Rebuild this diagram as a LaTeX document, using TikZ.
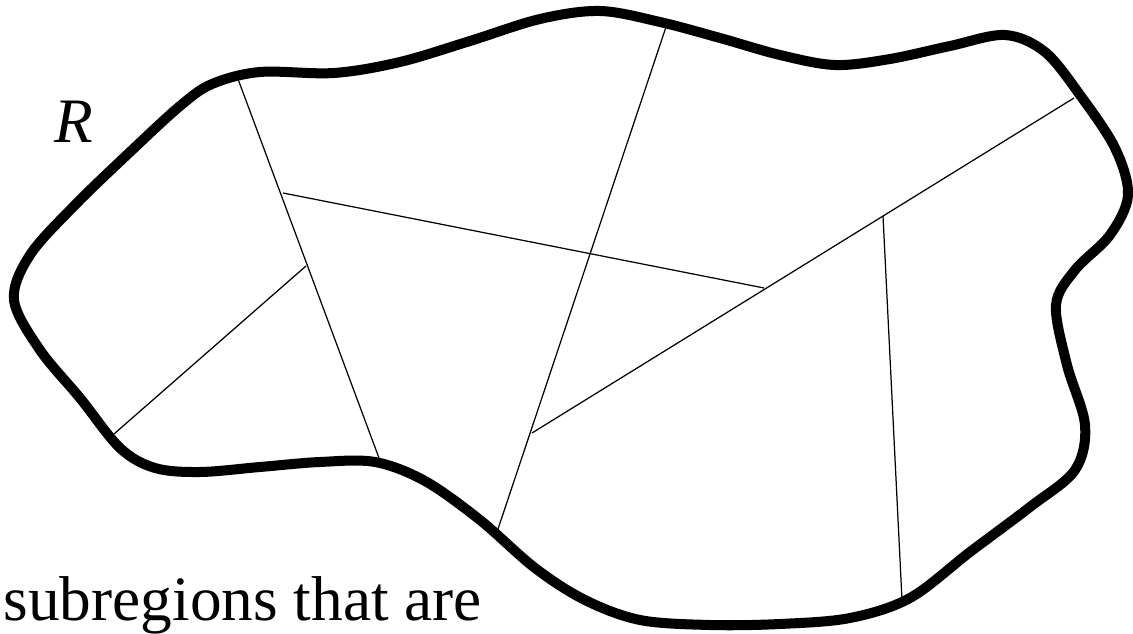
\documentclass[tikz,border=0pt]{standalone}
\usepackage{fontspec}
\setmainfont{Liberation Serif}
\usepackage{tikz}
\tikzset{
  rgnbdry/.style={draw=black,line width=0.1cm,line join=round},
  cutedge/.style={draw=black,line width=0.35pt},
  lblnode/.style={inner sep=0pt,anchor=base west,font=\fontsize{18}{20}\selectfont},
}
\begin{document}
\begin{tikzpicture}[x=0.01cm,y=-0.01cm]
  \useasboundingbox (0,0) rectangle (1133,634);
  \draw[rgnbdry] plot[smooth cycle,tension=0.55] coordinates {
    (14,300) (30,255) (75,205) (130,152) (180,106) (212,84) (260,72)
    (334,73) (400,62) (470,41) (540,19) (600,11) (660,22) (720,38)
    (780,55) (835,65) (890,59) (950,46) (1005,35) (1045,52) (1080,95)
    (1115,148) (1128,195) (1110,235) (1075,270) (1056,305) (1067,365)
    (1085,425) (1075,470) (1030,507) (970,552) (910,598) (850,618)
    (780,624) (710,625) (640,620) (585,600) (535,568) (480,520)
    (425,481) (375,462) (320,462) (260,467) (200,472) (155,468)
    (120,448) (80,398) (40,350)};
  \coordinate (aTop) at (238,79);
  \coordinate (aBot) at (379,458);
  \coordinate (bL) at (283,193);
  \coordinate (bR) at (764,288);
  \coordinate (cTop) at (666,27);
  \coordinate (cBot) at (498,529);
  \coordinate (dTop) at (1074,98);
  \coordinate (dBot) at (532,433);
  \coordinate (eIn) at (306,266);
  \coordinate (eOut) at (114,434);
  \coordinate (fTop) at (883,216);
  \coordinate (fBot) at (902,600);
  \draw[cutedge] (aTop) -- (aBot);
  \draw[cutedge] (bL) -- (bR);
  \draw[cutedge] (cTop) -- (cBot);
  \draw[cutedge] (dTop) -- (dBot);
  \draw[cutedge] (eIn) -- (eOut);
  \draw[cutedge] (fTop) -- (fBot);
  \node[lblnode] (lblR) at (54,143) {\itshape R};
  \node[lblnode] (lblSub) at (3,620) {subregions that are};
\end{tikzpicture}
\end{document}
